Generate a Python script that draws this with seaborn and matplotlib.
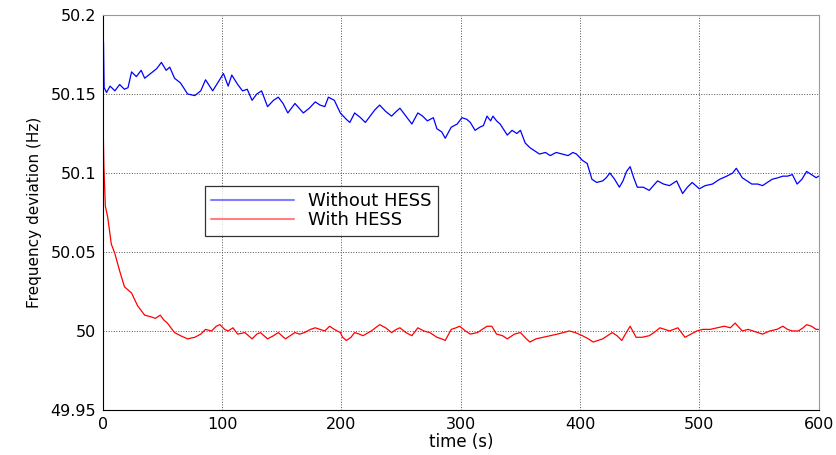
import numpy as np
import pandas as pd
import matplotlib
matplotlib.use("Agg")
import matplotlib.pyplot as plt
import seaborn as sns

# values
t_without = [0, 0.4, 1, 3, 6, 10, 14, 18, 21, 24, 28, 32, 35, 40, 45, 49, 53, 56, 60, 65,
             71, 77, 82, 86, 92, 97, 101, 105, 108, 113, 117, 121, 125, 129, 133, 138, 143,
             147, 151, 155, 161, 168, 173, 178, 182, 186, 189, 194, 199, 204, 207, 211, 216,
             220, 224, 228, 232, 237, 242, 246, 249, 254, 259, 264, 268, 272, 277, 280, 284,
             287, 292, 297, 301, 305, 308, 312, 316, 319, 322, 325, 327, 330, 333, 339, 343,
             347, 350, 354, 358, 362, 366, 371, 375, 380, 385, 390, 394, 397, 402, 406, 410,
             414, 419, 422, 425, 429, 433, 436, 439, 442, 445, 448, 453, 458, 465, 470, 475,
             481, 486, 490, 494, 500, 505, 511, 517, 523, 528, 531, 536, 540, 544, 549, 553,
             557, 561, 566, 570, 574, 578, 582, 586, 590, 594, 598, 600]
f_without = [50.000, 50.183, 50.154, 50.151, 50.155, 50.152, 50.156, 50.153, 50.154, 50.164,
             50.161, 50.165, 50.160, 50.163, 50.166, 50.170, 50.165, 50.167, 50.160, 50.157,
             50.150, 50.149, 50.152, 50.159, 50.152, 50.158, 50.163, 50.155, 50.162, 50.156,
             50.152, 50.153, 50.146, 50.150, 50.152, 50.142, 50.146, 50.148, 50.144, 50.138,
             50.144, 50.138, 50.141, 50.145, 50.143, 50.142, 50.148, 50.146, 50.138, 50.134,
             50.132, 50.138, 50.135, 50.132, 50.136, 50.140, 50.143, 50.139, 50.136, 50.139,
             50.141, 50.136, 50.131, 50.138, 50.136, 50.133, 50.135, 50.128, 50.126, 50.122,
             50.129, 50.131, 50.135, 50.134, 50.132, 50.127, 50.129, 50.130, 50.136, 50.133,
             50.136, 50.133, 50.131, 50.124, 50.127, 50.125, 50.127, 50.119, 50.116, 50.114,
             50.112, 50.113, 50.111, 50.113, 50.112, 50.111, 50.113, 50.112, 50.108, 50.106,
             50.096, 50.094, 50.095, 50.097, 50.100, 50.096, 50.091, 50.095, 50.101, 50.104,
             50.097, 50.091, 50.091, 50.089, 50.095, 50.093, 50.092, 50.095, 50.087, 50.091,
             50.094, 50.090, 50.092, 50.093, 50.096, 50.098, 50.100, 50.103, 50.097, 50.095,
             50.093, 50.093, 50.092, 50.094, 50.096, 50.097, 50.098, 50.098, 50.099, 50.093,
             50.096, 50.101, 50.099, 50.097, 50.098]

t_with = [0, 0.3, 0.8, 2, 4, 7, 10, 14, 18, 21, 24, 29, 35, 40, 44, 48, 51, 54, 57, 60, 65,
          71, 77, 82, 86, 91, 95, 98, 102, 105, 109, 113, 119, 125, 129, 132, 138, 143, 147,
          153, 157, 161, 165, 169, 174, 178, 182, 186, 190, 194, 199, 201, 204, 208, 211, 215,
          218, 225, 232, 237, 242, 246, 249, 254, 259, 264, 269, 274, 280, 284, 287, 292, 296,
          299, 304, 308, 314, 318, 322, 326, 330, 335, 339, 345, 350, 355, 358, 363, 369, 375,
          381, 386, 391, 396, 402, 407, 411, 415, 419, 423, 427, 431, 435, 438, 442, 447, 452,
          458, 462, 467, 471, 475, 482, 488, 493, 498, 503, 509, 515, 521, 526, 530, 536, 541,
          545, 549, 553, 559, 565, 570, 574, 578, 583, 587, 590, 594, 598, 600]
f_with = [50.000, 50.124, 50.104, 50.079, 50.072, 50.055, 50.049, 50.038, 50.028, 50.026,
          50.024, 50.016, 50.010, 50.009, 50.008, 50.010, 50.007, 50.005, 50.002, 49.999,
          49.997, 49.995, 49.996, 49.998, 50.001, 50.000, 50.003, 50.004, 50.001, 50.000,
          50.002, 49.998, 49.999, 49.995, 49.998, 49.999, 49.995, 49.997, 49.999, 49.995,
          49.997, 49.999, 49.998, 49.999, 50.001, 50.002, 50.001, 50.000, 50.003, 50.001,
          49.999, 49.996, 49.994, 49.996, 49.999, 49.998, 49.997, 50.000, 50.004, 50.002,
          49.999, 50.001, 50.002, 49.999, 49.997, 50.002, 50.000, 49.999, 49.996, 49.995,
          49.994, 50.001, 50.002, 50.003, 50.000, 49.998, 49.999, 50.001, 50.003, 50.003,
          49.998, 49.997, 49.995, 49.998, 49.999, 49.995, 49.993, 49.995, 49.996, 49.997,
          49.998, 49.999, 50.000, 49.999, 49.997, 49.995, 49.993, 49.994, 49.995, 49.997,
          49.999, 49.997, 49.994, 49.998, 50.003, 49.996, 49.996, 49.997, 49.999, 50.002,
          50.001, 50.000, 50.002, 49.996, 49.998, 50.000, 50.001, 50.001, 50.002, 50.003,
          50.002, 50.005, 50.000, 50.001, 50.000, 49.999, 49.998, 50.000, 50.001, 50.003,
          50.001, 50.000, 50.000, 50.002, 50.004, 50.003, 50.001, 50.001]

x_ticks = [0, 100, 200, 300, 400, 500, 600]
y_ticks = [49.95, 50.0, 50.05, 50.1, 50.15, 50.2]
y_tick_labels = ["49.95", "50", "50.05", "50.1", "50.15", "50.2"]

sns.set_style("white")
plt.rcParams['font.family'] = ['DejaVu Sans']
plt.rcParams['text.color'] = 'black'
plt.rcParams['axes.labelcolor'] = 'black'
plt.rcParams['xtick.color'] = 'black'
plt.rcParams['ytick.color'] = 'black'

df = pd.concat([
    pd.DataFrame({'time': t_without, 'freq': f_without, 'case': 'Without HESS'}),
    pd.DataFrame({'time': t_with, 'freq': f_with, 'case': 'With HESS'}),
], ignore_index=True)

fig = plt.figure(figsize=(8.37, 4.55), dpi=100)
ax = fig.add_axes([0.123, 0.099, 0.855, 0.868])

sns.lineplot(data=df, x='time', y='freq', hue='case', palette=['#0000ff', '#ff0000'],
             estimator=None, sort=False, linewidth=0.9, ax=ax)

ax.set_xlim(0, 600)
ax.set_ylim(49.95, 50.2)
ax.set_xticks(x_ticks)
ax.set_yticks(y_ticks)
ax.set_yticklabels(y_tick_labels)
ax.tick_params(direction='in', length=4, width=0.8, labelsize=11.5, pad=5, colors='black')
ax.grid(True, color='#555555', linestyle=':', linewidth=0.7)
ax.set_axisbelow(True)
for side in ['left', 'bottom']:
    ax.spines[side].set_color('black')
    ax.spines[side].set_linewidth(0.8)
for side in ['top', 'right']:
    ax.spines[side].set_color('#999999')
    ax.spines[side].set_linewidth(0.8)

ax.set_xlabel('time (s)', fontsize=12, labelpad=1)
ax.set_ylabel('Frequency deviation (Hz)', fontsize=11, labelpad=6)

leg = ax.legend(loc='upper left', bbox_to_anchor=(0.142, 0.567), frameon=True,
                fancybox=False, edgecolor='black', fontsize=13, handlelength=4.6,
                borderpad=0.35, labelspacing=0.05, handletextpad=0.8, borderaxespad=0)
leg.get_frame().set_linewidth(0.9)
for h, c in zip(leg.get_lines(), ['#8080ff', '#ff8080']):
    h.set_color(c)
    h.set_linewidth(1.5)

fig.savefig('out.png', dpi=100)
